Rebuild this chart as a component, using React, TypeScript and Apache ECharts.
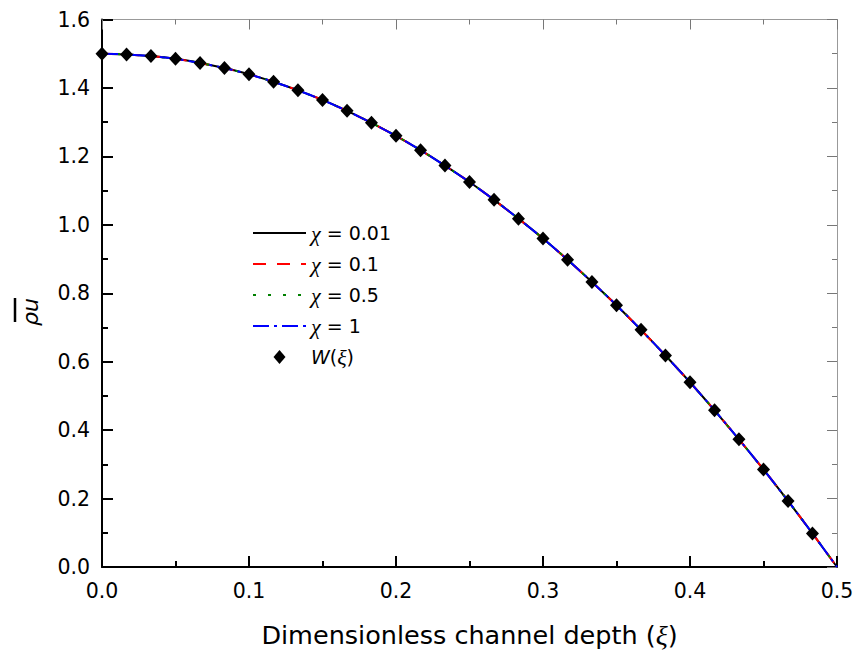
import React, { useEffect, useRef } from "react";
import * as echarts from "echarts";

const xi: number[] = [
  0, 0.0167, 0.0333, 0.05, 0.0667, 0.0833, 0.1, 0.1167, 0.1333, 0.15,
  0.1667, 0.1833, 0.2, 0.2167, 0.2333, 0.25, 0.2667, 0.2833, 0.3, 0.3167,
  0.3333, 0.35, 0.3667, 0.3833, 0.4, 0.4167, 0.4333, 0.45, 0.4667, 0.4833,
];
const wValues: number[] = [
  1.5, 1.498, 1.493, 1.485, 1.473, 1.458, 1.44, 1.418, 1.393, 1.365,
  1.333, 1.298, 1.26, 1.218, 1.173, 1.125, 1.073, 1.018, 0.96, 0.898,
  0.833, 0.765, 0.693, 0.618, 0.54, 0.458, 0.373, 0.285, 0.193, 0.098,
];
const curveXi: number[] = [...xi, 0.5];
const curveValues: number[] = [...wValues, 0];

const seriesNames: string[] = ["c1", "c2", "c3", "c4", "w"];
const seriesLabels: Record<string, string> = {
  c1: "{g|χ} = 0.01",
  c2: "{g|χ} = 0.1",
  c3: "{g|χ} = 0.5",
  c4: "{g|χ} = 1",
  w: "{i|W}({g|ξ})",
};
const lineColors: string[] = ["#000000", "#ff0000", "#008000", "#0000ff"];
const lineDashes: any[] = ["solid", [13, 11], [3, 12], [16, 5, 3, 5]];

const FONT = "'DejaVu Sans', 'Liberation Sans', Arial, sans-serif";
const SERIF = "'Liberation Serif', 'DejaVu Serif', serif";

export default function App() {
  const ref = useRef<HTMLDivElement>(null);
  useEffect(() => {
    if (!ref.current) return;
    const chart = echarts.init(ref.current, null, { renderer: "svg" });
    const pts = curveXi.map((x, i) => [x, curveValues[i]]);
    const lineSeries = lineColors.map((c, k) => ({
      name: seriesNames[k],
      type: "line",
      data: pts,
      showSymbol: false,
      symbol: "none",
      smooth: 0.2,
      lineStyle: { color: c, width: 2, type: lineDashes[k] },
      itemStyle: { color: c },
      z: 2 + k,
    }));
    const mkAxis = (grey: boolean) => ({
      axisLine: { show: true, onZero: false, lineStyle: { color: grey ? "#999" : "#000", width: grey ? 1 : 2 } },
      axisTick: { show: true, inside: true, length: grey ? 10 : 11, lineStyle: { color: grey ? "#777" : "#000", width: grey ? 1 : 2 } },
      minorTick: { show: true, splitNumber: 2, length: grey ? 5 : 6, lineStyle: { color: grey ? "#777" : "#000", width: grey ? 1 : 2 } },
      splitLine: { show: false },
      minorSplitLine: { show: false },
    });
    const labelStyle = {
      fontSize: 20.5, color: "#000", fontFamily: FONT,
      formatter: (v: number) => v.toFixed(1),
    };
    chart.setOption({
      animation: false,
      backgroundColor: "#fff",
      grid: { left: 102, right: 20, top: 19.5, bottom: 88, containLabel: false },
      xAxis: [
        {
          type: "value", min: 0, max: 0.5, interval: 0.1, position: "bottom",
          ...mkAxis(false),
          axisLabel: { show: true, margin: 13, ...labelStyle },
          name: "Dimensionless channel depth ({g|ξ})",
          nameLocation: "middle",
          nameGap: 54,
          nameTextStyle: {
            fontSize: 25.5, color: "#000", fontFamily: FONT,
            rich: { g: { fontFamily: SERIF, fontStyle: "italic", fontSize: 28, color: "#000" } },
          },
        },
        {
          type: "value", min: 0, max: 0.5, interval: 0.1, position: "top",
          ...mkAxis(true), axisLabel: { show: false },
        },
      ],
      yAxis: [
        {
          type: "value", min: 0, max: 1.6, interval: 0.2, position: "left",
          ...mkAxis(false),
          axisLabel: { show: true, margin: 12, ...labelStyle },
        },
        {
          type: "value", min: 0, max: 1.6, interval: 0.2, position: "right",
          ...mkAxis(true), axisLabel: { show: false },
        },
      ],
      legend: {
        orient: "vertical",
        left: 247,
        top: 217,
        itemWidth: 53,
        itemHeight: 14,
        itemGap: 9,
        data: [
          { name: "c1", itemStyle: { opacity: 0 } },
          { name: "c2", itemStyle: { opacity: 0 } },
          { name: "c3", itemStyle: { opacity: 0 } },
          { name: "c4", itemStyle: { opacity: 0 } },
          { name: "w", icon: "path://M6,0L12,7L6,14L0,7Z" },
        ],
        formatter: (name: string) => seriesLabels[name],
        textStyle: {
          fontSize: 19, lineHeight: 20, color: "#000", fontFamily: FONT,
          rich: {
            g: { fontFamily: SERIF, fontStyle: "italic", fontSize: 22, lineHeight: 20, color: "#000" },
            i: { fontFamily: FONT, fontStyle: "italic", fontSize: 19, lineHeight: 20, color: "#000" },
          },
        },
      },
      series: [
        ...lineSeries,
        {
          name: "w",
          type: "scatter",
          data: xi.map((x, i) => [x, wValues[i]]),
          symbol: "diamond",
          symbolSize: [13, 14],
          itemStyle: { color: "#000", opacity: 1 },
          z: 10,
        },
      ],
      graphic: [
        {
          type: "group",
          x: 30.5,
          y: 312,
          rotation: Math.PI / 2,
          children: [
            {
              type: "text",
              x: 0,
              y: 0,
              style: {
                text: "ρu",
                fontSize: 22,
                fontStyle: "italic",
                fontFamily: FONT,
                fill: "#000",
                align: "center",
                verticalAlign: "middle",
              },
            },
            {
              type: "line",
              shape: { x1: -10, y1: -15.5, x2: 14, y2: -15.5 },
              style: { stroke: "#000", lineWidth: 2.5 },
            },
          ],
        },
      ],
    });
    return () => chart.dispose();
  }, []);
  return (
    <div
      ref={ref}
      style={{ position: "fixed", left: 0, top: 0, width: 857, height: 655 }}
    />
  );
}
